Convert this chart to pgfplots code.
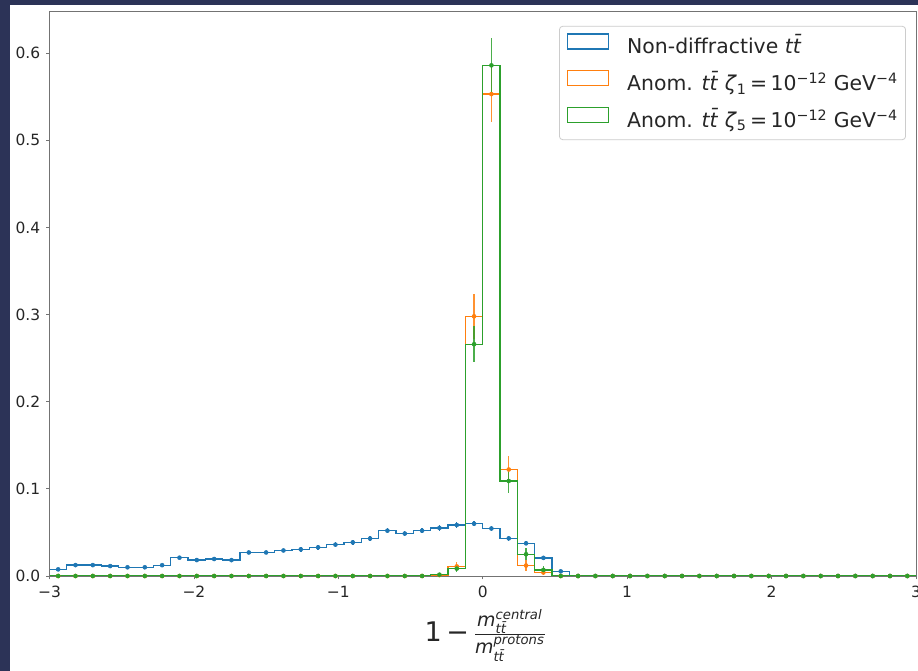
\documentclass[border=0pt]{standalone}
\usepackage{fontspec}
\setmainfont{DejaVu Sans}
\usepackage{pgfplots}
\pgfplotsset{compat=1.18}
\usepackage{pgfplotstable}
\definecolor{c0}{HTML}{1F77B4}
\definecolor{c1}{HTML}{FF7F0E}
\definecolor{c2}{HTML}{2CA02C}
\definecolor{navy}{RGB}{44,51,87}
\definecolor{spine}{gray}{0.45}
\definecolor{txt}{HTML}{262626}

% left bin edge, value, error for each series (bin width 0.12)
\pgfplotstableread{
e      b       be      o      oe     g       ge
-3.00  0.0076  0.0015  0      0      0       0
-2.88  0.0125  0.0015  0      0      0       0
-2.76  0.0125  0.0015  0      0      0       0
-2.64  0.0114  0.0015  0      0      0       0
-2.52  0.0100  0.0015  0      0      0       0
-2.40  0.0100  0.0015  0      0      0       0
-2.28  0.0124  0.0015  0      0      0       0
-2.16  0.0210  0.0020  0      0      0       0
-2.04  0.0183  0.0020  0      0      0       0
-1.92  0.0195  0.0020  0      0      0       0
-1.80  0.0182  0.0020  0      0      0       0
-1.68  0.0270  0.0022  0      0      0       0
-1.56  0.0270  0.0022  0      0      0       0
-1.44  0.0293  0.0022  0      0      0       0
-1.32  0.0306  0.0025  0      0      0       0
-1.20  0.0329  0.0025  0      0      0       0
-1.08  0.0360  0.0025  0      0      0       0
-0.96  0.0386  0.0025  0      0      0       0
-0.84  0.0430  0.0028  0      0      0       0
-0.72  0.0520  0.0030  0      0      0       0
-0.60  0.0487  0.0030  0      0      0       0
-0.48  0.0520  0.0030  0      0      0       0
-0.36  0.0552  0.0030  0.0010 0.0010 0.0015  0.0015
-0.24  0.0585  0.0030  0.0110 0.0050 0.0085  0.0040
-0.12  0.0600  0.0030  0.2980 0.0260 0.2660  0.0210
 0.00  0.0545  0.0030  0.5530 0.0320 0.5860  0.0310
 0.12  0.0432  0.0028  0.1222 0.0160 0.1090  0.0140
 0.24  0.0375  0.0025  0.0120 0.0060 0.0250  0.0070
 0.36  0.0208  0.0020  0.0040 0.0030 0.0070  0.0040
 0.48  0.0053  0.0012  0      0      0       0
 0.60  0       0       0      0      0       0
 0.72  0       0       0      0      0       0
 0.84  0       0       0      0      0       0
 0.96  0       0       0      0      0       0
 1.08  0       0       0      0      0       0
 1.20  0       0       0      0      0       0
 1.32  0       0       0      0      0       0
 1.44  0       0       0      0      0       0
 1.56  0       0       0      0      0       0
 1.68  0       0       0      0      0       0
 1.80  0       0       0      0      0       0
 1.92  0       0       0      0      0       0
 2.04  0       0       0      0      0       0
 2.16  0       0       0      0      0       0
 2.28  0       0       0      0      0       0
 2.40  0       0       0      0      0       0
 2.52  0       0       0      0      0       0
 2.64  0       0       0      0      0       0
 2.76  0       0       0      0      0       0
 2.88  0       0       0      0      0       0
 3.00  0       0       0      0      0       0
}\hist

\newcommand{\ttb}{\textit{tt̄}}

\begin{document}
\begin{tikzpicture}
\useasboundingbox (0,0) rectangle (688.5pt,503.25pt);
\fill[white] (0,0) rectangle (688.5pt,503.25pt);
\fill[navy] (0,0) rectangle (7.5pt,503.25pt);
\fill[navy] (0,499.5pt) rectangle (688.5pt,503.25pt);
\begin{axis}[
  at={(37.125pt,71.25pt)}, anchor=south west,
  scale only axis, width=649.875pt, height=423.375pt,
  xmin=-3, xmax=3, ymin=0, ymax=0.6478,
  xtick={-3,-2,-1,0,1,2,3},
  xticklabels={−3,−2,−1,0,1,2,3},
  ytick={0,0.1,0.2,0.3,0.4,0.5,0.6},
  yticklabels={0.0,0.1,0.2,0.3,0.4,0.5,0.6},
  xtick pos=lower, ytick pos=left,
  tick align=outside, major tick length=2.6pt,
  tick style={spine, line width=0.6pt},
  axis line style={spine, line width=0.6pt},
  ticklabel style={font=\fontsize{11.6}{13}\selectfont, text=txt, inner sep=0pt},
  xticklabel style={anchor=north, yshift=-4.5pt},
  yticklabel style={anchor=east, xshift=-4.2pt},
  clip=false, axis on top,
  xlabel={\fontsize{20.25}{24}\selectfont 1\,−\,$\frac{\hbox{\fontsize{14.2}{17}\selectfont$\hbox{\itshape m}^{\hbox{\fontsize{9.9}{12}\selectfont\itshape central}}_{\hbox{\fontsize{9.9}{12}\selectfont\itshape tt̄}}$}\vphantom{\rule[-2pt]{0pt}{1pt}}}{\hbox{\fontsize{14.2}{17}\selectfont$\hbox{\itshape m}^{\hbox{\fontsize{9.9}{12}\selectfont\itshape protons}}_{\hbox{\fontsize{9.9}{12}\selectfont\itshape tt̄}}$}}$},
  xlabel style={at={(axis description cs:0.5,0)}, anchor=center, yshift=-44.5pt, xshift=2pt, text=txt, inner sep=0pt},
  legend style={
    at={(1,1)}, anchor=north east, xshift=-7.5pt, yshift=-10.8pt,
    draw=black!20, line width=0.6pt, rounded corners=2.5pt,
    fill=white, fill opacity=0.8, text opacity=1,
    font=\fontsize{15.3}{18}\selectfont, text=txt,
    inner xsep=5.8pt, inner ysep=5.4pt,
    row sep=8.4pt, column sep=13.5pt,
    nodes={inner sep=0pt, text height=11pt, text depth=4pt},
  },
  legend cell align=left,
  legend image code/.code={\draw[#1, sharp corners, line width=0.8pt] (0pt,0pt) rectangle (30.75pt,11.25pt);},
]
\addplot[c0, line width=1pt, const plot, no marks] table[x=e, y=b] {\hist};
\addlegendentry{Non-diffractive \ttb}
\addplot[c1, line width=1pt, const plot, no marks] table[x=e, y=o] {\hist};
\addlegendentry{Anom. \ttb\ \textit{ζ}\textsubscript{1}\,=\,10\textsuperscript{−12} GeV\textsuperscript{−4}}
\addplot[c2, line width=1pt, const plot, no marks] table[x=e, y=g] {\hist};
\addlegendentry{Anom. \ttb\ \textit{ζ}\textsubscript{5}\,=\,10\textsuperscript{−12} GeV\textsuperscript{−4}}

\addplot[c0, only marks, mark=*, mark size=1.5pt, forget plot, restrict x to domain=-3:3,
  error bars/.cd, y dir=both, y explicit, error mark=none, error bar style={line width=1.1pt}]
  table[x expr=\thisrow{e}+0.06, y=b, y error=be] {\hist};
\addplot[c1, only marks, mark=*, mark size=1.5pt, forget plot, restrict x to domain=-3:3,
  error bars/.cd, y dir=both, y explicit, error mark=none, error bar style={line width=1.1pt, opacity=0.85}]
  table[x expr=\thisrow{e}+0.06, y=o, y error=oe] {\hist};
\addplot[c2, only marks, mark=*, mark size=1.5pt, forget plot, restrict x to domain=-3:3,
  error bars/.cd, y dir=both, y explicit, error mark=none, error bar style={line width=1.1pt, opacity=0.85}]
  table[x expr=\thisrow{e}+0.06, y=g, y error=ge] {\hist};
\end{axis}
\end{tikzpicture}
\end{document}
